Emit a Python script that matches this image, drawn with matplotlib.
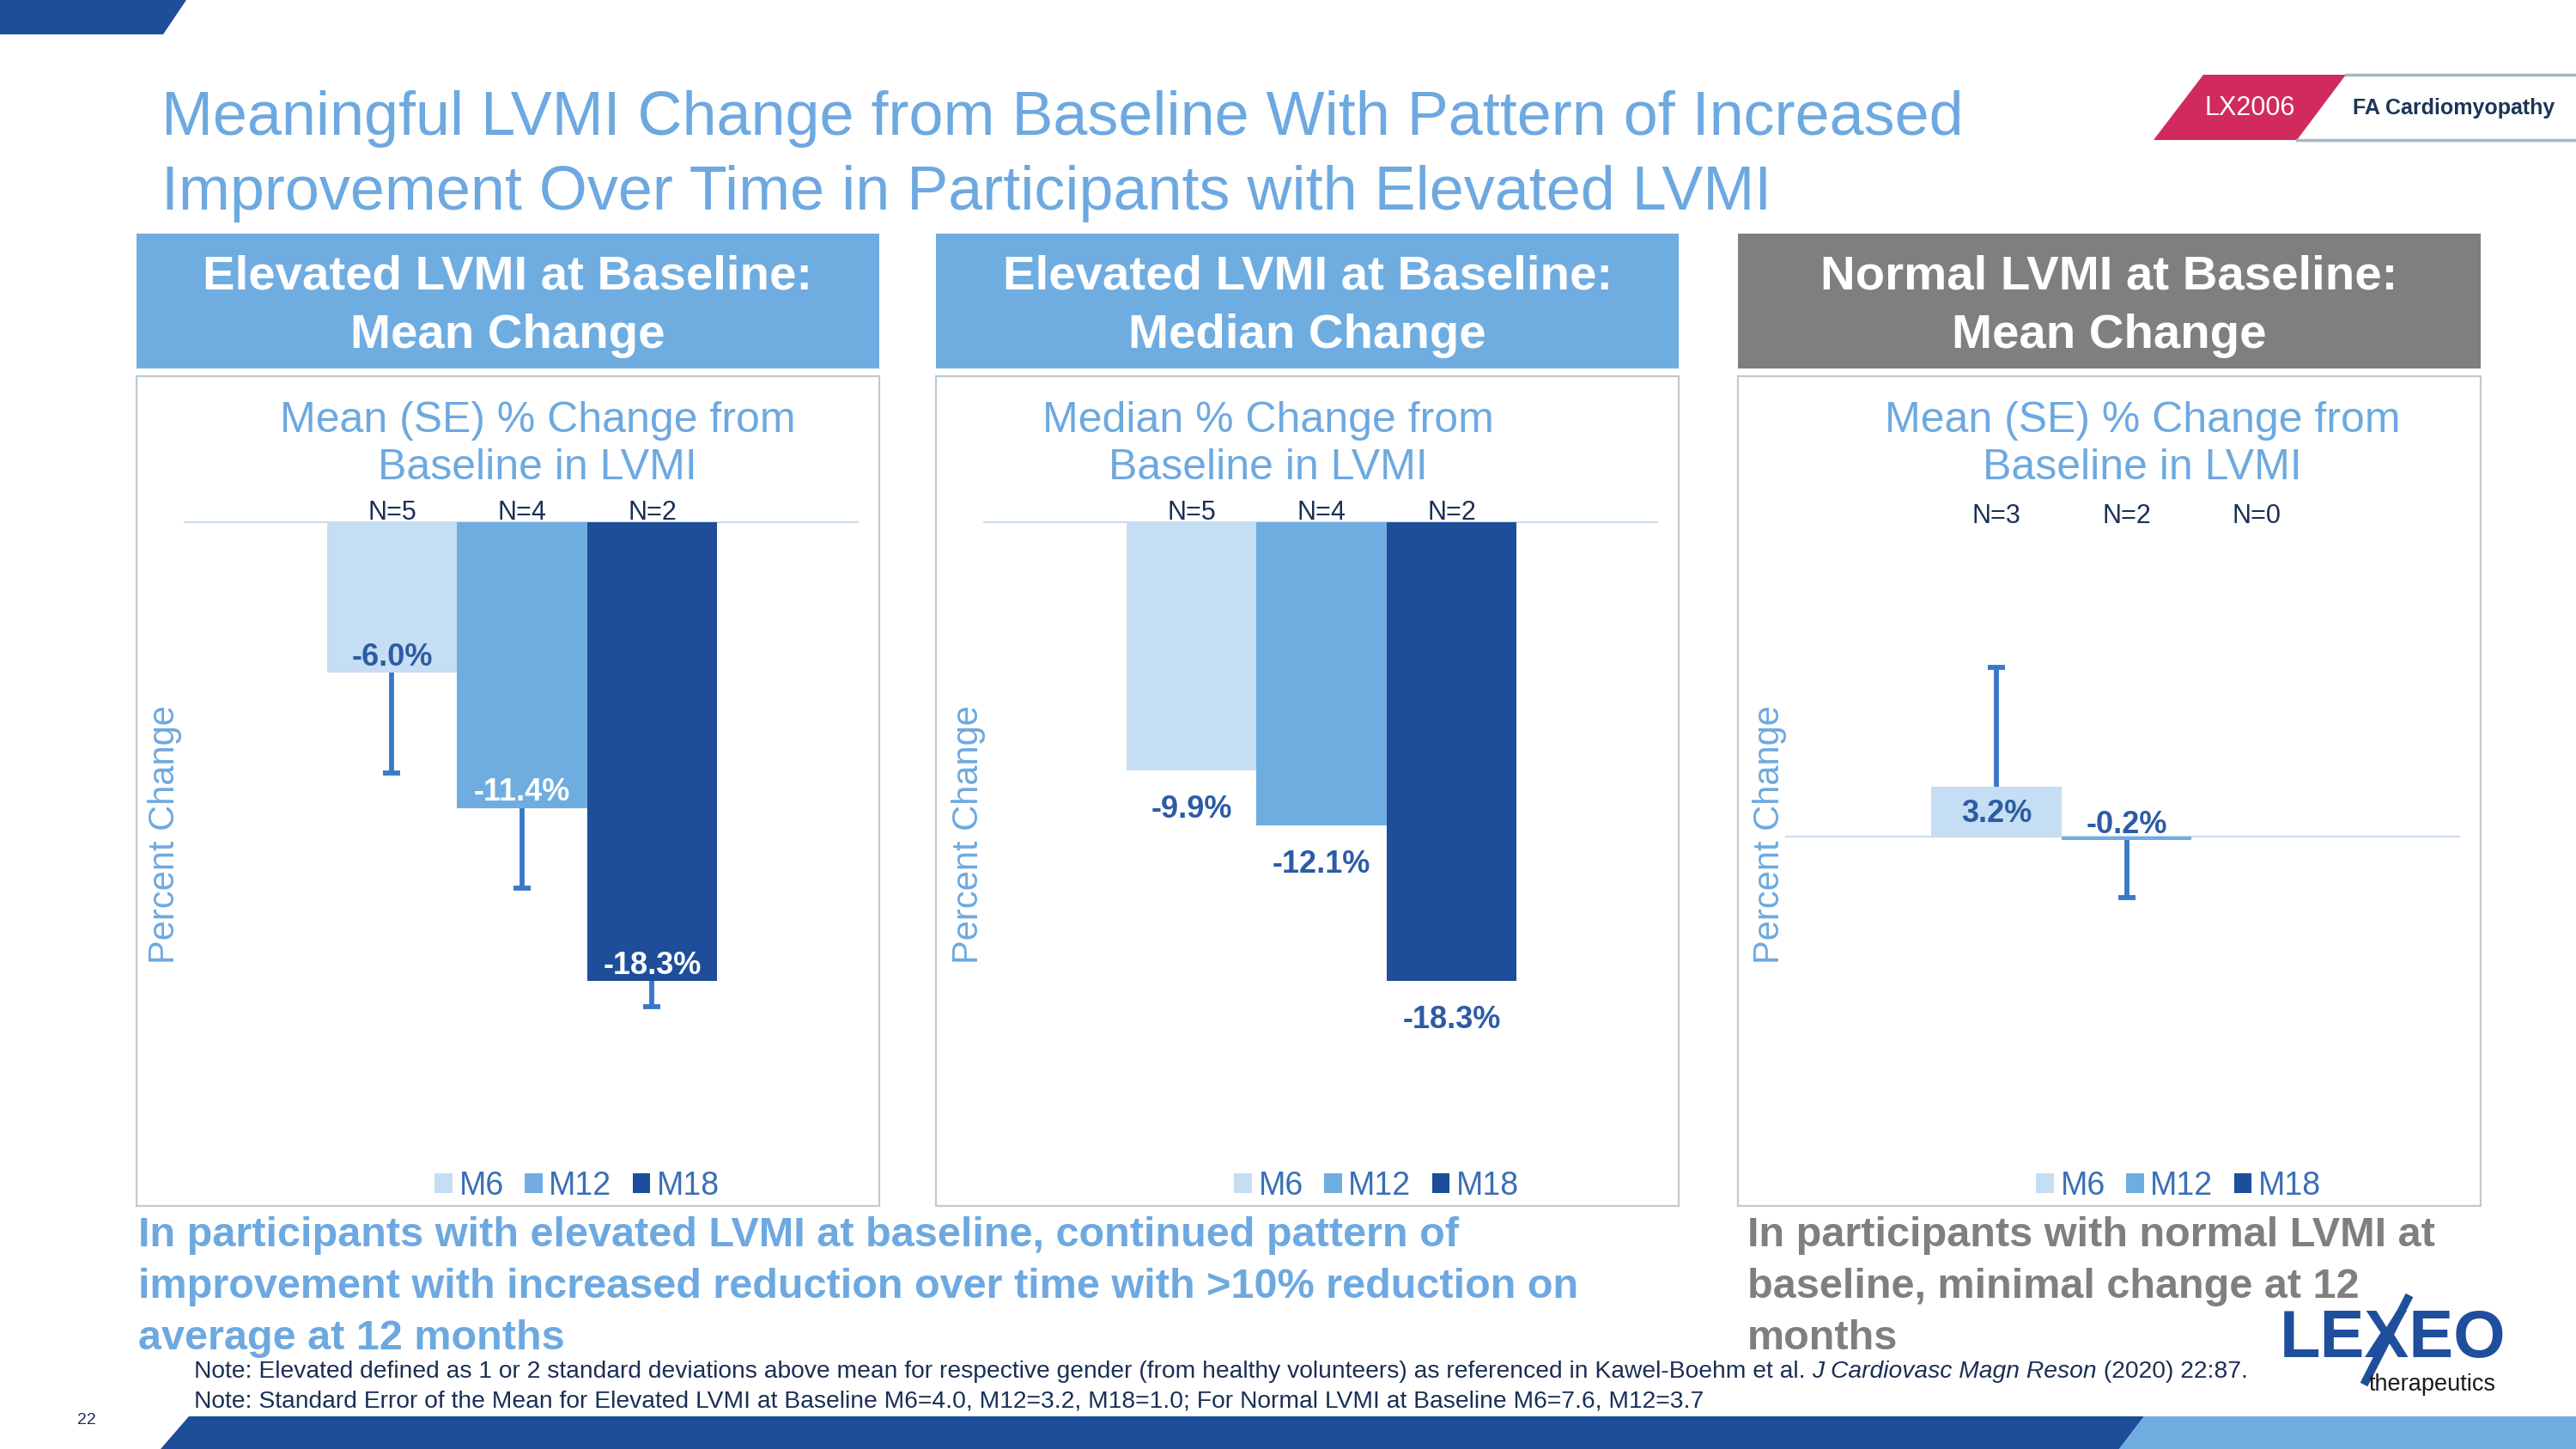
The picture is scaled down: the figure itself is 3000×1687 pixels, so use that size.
"""
LVMI change from baseline slide: three bar panels with header boxes and notes.
"""

import numpy as np
import matplotlib.pyplot as plt
from matplotlib.patches import Polygon, Rectangle, Patch
from matplotlib.transforms import Affine2D, blended_transform_factory

plt.rcParams['font.family'] = ['Liberation Sans', 'DejaVu Sans']

W, H = 3000, 1687

# ---- data -------------------------------------------------------------
visits = ['M6', 'M12', 'M18']

elev_mean_n = ['N=5', 'N=4', 'N=2']
elev_mean = [-6.0, -11.4, -18.3]
elev_mean_se = [4.0, 3.2, 1.0]

elev_median_n = ['N=5', 'N=4', 'N=2']
elev_median = [-9.9, -12.1, -18.3]

norm_mean_n = ['N=3', 'N=2', 'N=0']
norm_mean = [3.2, -0.2, np.nan]
norm_mean_se = [7.6, 3.7, np.nan]

headers = ['Elevated LVMI at Baseline:\nMean Change',
           'Elevated LVMI at Baseline:\nMedian Change',
           'Normal LVMI at Baseline:\nMean Change']
chart_titles = ['Mean (SE) % Change from\nBaseline in LVMI',
                'Median % Change from\nBaseline in LVMI',
                'Mean (SE) % Change from\nBaseline in LVMI']

elevated_summary = ['In participants with elevated LVMI at baseline, continued pattern of',
                    'improvement with increased reduction over time with >10% reduction on',
                    'average at 12 months']
normal_summary = ['In participants with normal LVMI at',
                  'baseline, minimal change at 12',
                  'months']

# ---- style ------------------------------------------------------------
BAR_COLORS = ['#C5DEF3', '#6FADE1', '#1E4D9A']
LIGHT = '#6DA9E0'
GRAY = '#7F7F7F'
NAVY = '#1B2F55'
LABEL = '#2D5CA5'
ERR = '#3A78C8'
ZERO = '#C9DDF0'
BORDER = '#BFCAD0'
DARK_BAND = '#1E4D9A'

PANEL_X = [159, 1090, 2024]
PANEL_W = 865
TITLE_CX = [626, 1477, 2495]
YLAB_X = [192, 1128, 2061]
X_START = [-1.6, -1.6, -1.625]
SUMMARY_BASELINES = [1451, 1511, 1571]

fig = plt.figure(figsize=(W / 100, H / 100), dpi=100)
bg = fig.add_axes([0, 0, 1, 1])
bg.set_xlim(0, W)
bg.set_ylim(H, 0)
bg.axis('off')
bg.set_zorder(0)

# pixel transform (y down)
px = Affine2D().scale(1 / W, -1 / H).translate(0, 1) + fig.transFigure

# ---- slide decorations ------------------------------------------------
bg.add_patch(Polygon([(0, 0), (217, 0), (190, 40), (0, 40)], color=DARK_BAND, lw=0))
bg.add_patch(Polygon([(220, 1649), (2497, 1649), (2468, 1687), (187, 1687)], color=DARK_BAND, lw=0))
bg.add_patch(Polygon([(2497, 1649), (3000, 1649), (3000, 1687), (2468, 1687)], color='#6FADE1', lw=0))

bg.text(188, 157, 'Meaningful LVMI Change from Baseline With Pattern of Increased',
        fontsize=51.8, color=LIGHT, va='baseline', ha='left')
bg.text(188, 244, 'Improvement Over Time in Participants with Elevated LVMI',
        fontsize=51.8, color=LIGHT, va='baseline', ha='left')

# badge
bg.add_patch(Polygon([(2566, 87), (2732, 87), (2675, 163), (2508, 163)], color='#D12B5E', lw=0))
bg.plot([2732, 3000], [87, 87], color='#A7B6BF', lw=2.5)
bg.plot([2675, 3000], [163, 163], color='#A7B6BF', lw=2.5)
bg.text(2620, 126, 'LX2006', fontsize=22, color='white', ha='center', va='center')
bg.text(2740, 126, 'FA Cardiomyopathy', fontsize=18, color='#1C3557',
        fontweight='bold', ha='left', va='center')

# ---- panels -----------------------------------------------------------
def draw_panel(i, values, se, n_labels, label_mode, label_colors, ylim, n_y):
    x0 = PANEL_X[i]
    hdr_color = GRAY if i == 2 else '#6FADE1'
    bg.add_patch(Rectangle((x0, 272), PANEL_W, 157, color=hdr_color, lw=0))
    l1, l2 = headers[i].split('\n')
    bg.text(x0 + PANEL_W / 2, 322, l1, fontsize=40.6, fontweight='bold',
            color='white', ha='center', va='center')
    bg.text(x0 + PANEL_W / 2, 391, l2, fontsize=40.6, fontweight='bold',
            color='white', ha='center', va='center')
    bg.add_patch(Rectangle((x0, 438), PANEL_W, 966, fill=False, ec=BORDER, lw=1.6))
    t1, t2 = chart_titles[i].split('\n')
    bg.text(TITLE_CX[i], 490, t1, fontsize=36, color=LIGHT, ha='center', va='center')
    bg.text(TITLE_CX[i], 545, t2, fontsize=36, color=LIGHT, ha='center', va='center')
    bg.text(YLAB_X[i], 972, 'Percent Change', fontsize=30, color=LIGHT,
            rotation=90, ha='center', va='center')

    left, top, bottom, width = x0 + 55, 560, 1330, 786
    ax = fig.add_axes([left / W, 1 - bottom / H, width / W, (bottom - top) / H])
    ax.set_zorder(1)
    ax.patch.set_alpha(0)
    for s in ax.spines.values():
        s.set_visible(False)
    ax.set_xticks([])
    ax.set_yticks([])
    ax.set_xlim(X_START[i], X_START[i] + width / 151.5)
    ax.set_ylim(*ylim)

    x = np.arange(len(values))
    vals = np.array(values, dtype=float)
    ok = ~np.isnan(vals)
    ax.axhline(0, color=ZERO, lw=1.6, zorder=0)
    ax.bar(x[ok], vals[ok], width=1.0, color=[BAR_COLORS[k] for k in x[ok]],
           lw=0, zorder=2)

    if se is not None:
        sev = np.array(se, dtype=float)
        ends = np.where(vals < 0, vals - sev, vals + sev)
        ax.vlines(x[ok], vals[ok], ends[ok], color=ERR, lw=4.2, zorder=3)
        ax.plot(x[ok], ends[ok], ls='none', marker='_', ms=14, mew=4.2,
                color=ERR, zorder=3)

    for k in x[ok]:
        v = vals[k]
        txt = f'{v:.1f}%'
        if label_mode == 'inside':
            xy, off = (k, v), (0, 13 if v < 0 else -13)
        elif label_mode == 'outside':
            xy, off = (k, v), (0, -32.5 if v < 0 else 32.5)
        else:
            xy, off = ((k, v / 2), (0, -2)) if v > 0 else ((k, 0), (0, 9.5))
        ax.annotate(txt, xy, xytext=off, textcoords='offset points',
                    ha='center', va='center', fontsize=26, fontweight='bold',
                    color=label_colors[k], zorder=4)

    ntr = blended_transform_factory(ax.transData, px)
    for k, lab in enumerate(n_labels):
        ax.text(k, n_y, lab, transform=ntr, fontsize=22, color=NAVY,
                ha='center', va='center')

    handles = [Patch(color=c, lw=0) for c in BAR_COLORS]
    ax.legend(handles, visits, loc='center', bbox_to_anchor=(0.583, -0.066),
              ncol=3, frameon=False, fontsize=27, handlelength=0.55,
              handleheight=0.55, handletextpad=0.2, columnspacing=0.65,
              labelcolor='#3A6FB5', borderpad=0)
    return ax


s1 = 29.2
draw_panel(0, elev_mean, elev_mean_se, elev_mean_n, 'inside',
           [LABEL, 'white', 'white'], (-(1330 - 608) / s1, (608 - 560) / s1), 597)
draw_panel(1, elev_median, None, elev_median_n, 'outside',
           [LABEL, LABEL, LABEL], (-(1330 - 608) / s1, (608 - 560) / s1), 597)
s3 = 18.2
draw_panel(2, norm_mean, norm_mean_se, norm_mean_n, 'mid',
           [LABEL, LABEL, LABEL], (-(1330 - 974) / s3, (974 - 560) / s3), 601)

# ---- conclusions and notes -------------------------------------------
for line, yb in zip(elevated_summary, SUMMARY_BASELINES):
    bg.text(161, yb, line, fontsize=35, fontweight='bold', color=LIGHT,
            ha='left', va='baseline')
for line, yb in zip(normal_summary, SUMMARY_BASELINES):
    bg.text(2035, yb, line, fontsize=35, fontweight='bold', color=GRAY,
            ha='left', va='baseline')

n1 = bg.text(226, 1597,
             'Note: Elevated defined as 1 or 2 standard deviations above mean for respective '
             'gender (from healthy volunteers) as referenced in Kawel-Boehm et al. ',
             fontsize=20.3, color=NAVY, ha='left', va='center')
n2 = bg.annotate('J Cardiovasc Magn Reson', xy=(1, 0.5), xycoords=n1,
                 fontsize=20.3, color=NAVY, style='italic', ha='left', va='center')
bg.annotate(' (2020) 22:87.', xy=(1, 0.5), xycoords=n2,
            fontsize=20.3, color=NAVY, ha='left', va='center')
bg.text(226, 1632,
        'Note: Standard Error of the Mean for Elevated LVMI at Baseline M6=4.0, M12=3.2, '
        'M18=1.0; For Normal LVMI at Baseline M6=7.6, M12=3.7',
        fontsize=20.3, color=NAVY, ha='left', va='center')
bg.text(101, 1653, '22', fontsize=14, color=NAVY, ha='center', va='center')

# logo
bg.text(2655, 1580, 'LEXEO', fontsize=56, fontweight='bold', color='#1F4E9C',
        ha='left', va='baseline')
bg.plot([2753, 2806], [1612, 1508], color='#1F4E9C', lw=7, solid_capstyle='butt')
bg.text(2759, 1612, 'therapeutics', fontsize=19.5, color='#1A1A1A', ha='left', va='center')

fig.savefig('out.png', dpi=100)
